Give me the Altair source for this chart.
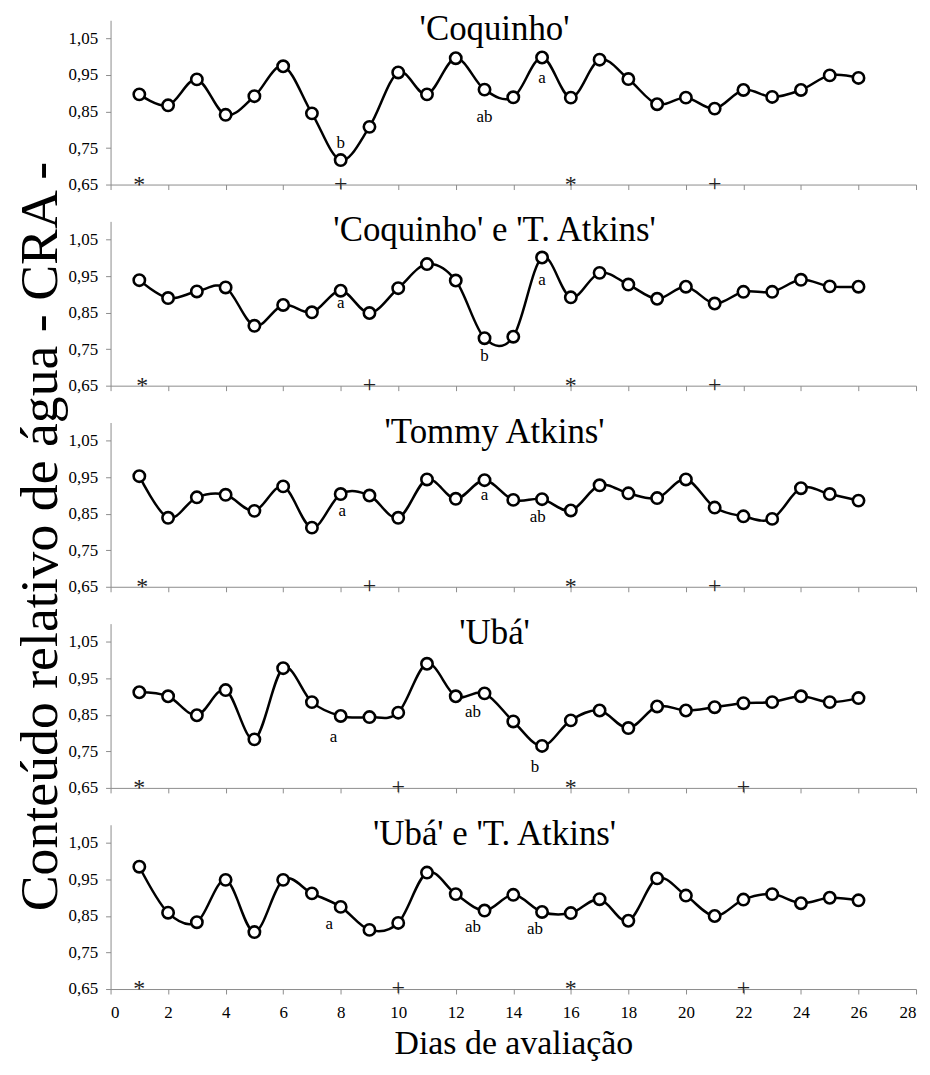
import altair as alt
import pandas as pd

days = list(range(1, 27))

titles = ["'Coquinho'", "'Coquinho' e 'T. Atkins'", "'Tommy Atkins'", "'Ubá'", "'Ubá' e 'T. Atkins'"]

cra_coquinho = [0.897, 0.867, 0.938, 0.841, 0.892, 0.974, 0.845, 0.717, 0.808, 0.957, 0.897, 0.996, 0.910,
                0.889, 0.998, 0.888, 0.992, 0.939, 0.870, 0.888, 0.858, 0.909, 0.890, 0.909, 0.949, 0.942]
cra_coq_ta = [0.939, 0.890, 0.908, 0.919, 0.814, 0.871, 0.851, 0.910, 0.849, 0.917, 0.983, 0.938, 0.780,
              0.784, 1.001, 0.892, 0.959, 0.927, 0.888, 0.921, 0.875, 0.907, 0.907, 0.940, 0.922, 0.921]
cra_tommy = [0.953, 0.839, 0.895, 0.902, 0.858, 0.925, 0.812, 0.904, 0.900, 0.839, 0.944, 0.891, 0.942,
             0.888, 0.890, 0.859, 0.928, 0.906, 0.893, 0.944, 0.867, 0.843, 0.836, 0.920, 0.904, 0.886]
cra_uba = [0.912, 0.901, 0.849, 0.918, 0.783, 0.978, 0.885, 0.847, 0.844, 0.856, 0.990, 0.901, 0.909,
           0.832, 0.765, 0.835, 0.862, 0.814, 0.873, 0.862, 0.871, 0.882, 0.885, 0.901, 0.885, 0.896]
cra_uba_ta = [0.985, 0.859, 0.833, 0.949, 0.806, 0.949, 0.912, 0.875, 0.812, 0.831, 0.969, 0.910, 0.865,
              0.908, 0.861, 0.858, 0.896, 0.837, 0.953, 0.906, 0.850, 0.895, 0.910, 0.885, 0.900, 0.893]
series = [cra_coquinho, cra_coq_ta, cra_tommy, cra_uba, cra_uba_ta]

# significance letters: x, y, text
letter_x = [[8, 13, 15], [8, 13, 15], [8.05, 13, 14.85], [7.75, 12.6, 14.75], [7.6, 12.6, 14.75]]
letter_y = [[0.764, 0.836, 0.941], [0.877, 0.730, 0.938], [0.857, 0.900, 0.840],
            [0.790, 0.858, 0.706], [0.827, 0.819, 0.814]]
letter_t = [["b", "ab", "a"], ["a", "b", "a"], ["a", "a", "ab"], ["a", "ab", "b"], ["a", "ab", "ab"]]

# markers on the base line: asterisks and plus signs
star_x = [[1, 16], [1.1, 16], [1.1, 16], [1, 16], [1, 16]]
plus_x = [[8, 21], [9, 21], [9, 21], [10, 22], [10, 22]]

x_ticks = list(range(0, 29, 2))
y_ticks = [0.65, 0.75, 0.85, 0.95, 1.05]

SERIF = "Liberation Serif"
AX_COL = "#8c8c8c"
AXIS_STYLE = dict(domainColor=AX_COL, tickColor=AX_COL, domainWidth=1, tickWidth=1, tickSize=5,
                  labelFont=SERIF, labelFontSize=17, labelColor="black", grid=False)


def panel(i, bottom):
    df = pd.DataFrame({"dia": days, "cra": series[i]})
    ldf = pd.DataFrame({"x": letter_x[i], "y": letter_y[i], "t": letter_t[i]})
    sdf = pd.DataFrame({"x": star_x[i], "t": ["*"] * len(star_x[i])})
    pdf = pd.DataFrame({"x": plus_x[i], "t": ["+"] * len(plus_x[i])})
    tdf = pd.DataFrame({"t": [titles[i]]})

    xs = alt.Scale(domain=[0, 28], nice=False, zero=False)
    ys = alt.Scale(domain=[0.65, 1.10], nice=False, zero=False)
    if bottom:
        xaxis = alt.Axis(values=x_ticks, labels=True, title="Dias de avaliação", labelPadding=11,
                         titlePadding=6, titleFont=SERIF, titleFontSize=34, titleFontWeight="normal",
                         titleColor="black", **AXIS_STYLE)
    else:
        xaxis = alt.Axis(values=x_ticks, labels=False, title=None, **AXIS_STYLE)
    yaxis = alt.Axis(values=y_ticks, title=None, labelPadding=8,
                     labelExpr="replace(format(datum.value, '.2f'), '.', ',')", **AXIS_STYLE)

    line = alt.Chart(df).mark_line(interpolate="cardinal", color="black", strokeWidth=2.5).encode(
        x=alt.X("dia:Q", scale=xs, axis=xaxis),
        y=alt.Y("cra:Q", scale=ys, axis=yaxis),
    )
    pts = alt.Chart(df).mark_point(shape="circle", size=130, filled=True, fill="white", stroke="black",
                                   strokeWidth=2.6, opacity=1).encode(
        x=alt.X("dia:Q", scale=xs), y=alt.Y("cra:Q", scale=ys))
    letters = alt.Chart(ldf).mark_text(font=SERIF, fontSize=17, color="black", baseline="middle").encode(
        x=alt.X("x:Q", scale=xs), y=alt.Y("y:Q", scale=ys), text="t:N")
    stars = alt.Chart(sdf).mark_text(font=SERIF, fontSize=24, color="#222222", baseline="middle", dy=0).encode(
        x=alt.X("x:Q", scale=xs), y=alt.datum(0.65), text="t:N")
    pluses = alt.Chart(pdf).mark_text(font=SERIF, fontSize=24, color="#222222", baseline="middle", dy=-1).encode(
        x=alt.X("x:Q", scale=xs), y=alt.datum(0.65), text="t:N")
    title = alt.Chart(tdf).mark_text(font=SERIF, fontSize=35, color="black", baseline="alphabetic",
                                     align="center").encode(
        x=alt.datum(13.35), y=alt.datum(1.045), text="t:N")

    return alt.layer(line, pts, letters, stars, pluses, title).properties(width=809, height=165)


panels = [panel(i, i == 4) for i in range(5)]

chart = alt.vconcat(*panels, spacing=37, bounds="flush").properties(
    title=alt.TitleParams("Conteúdo relativo de água - CRA -", orient="left", anchor="middle",
                          font=SERIF, fontSize=54, fontWeight="normal", color="black", offset=0),
    padding={"left": 6, "top": 2, "right": 5, "bottom": 2},
).configure_view(stroke=None)

chart.save("out.html", embed_options={"renderer": "svg", "actions": False})
